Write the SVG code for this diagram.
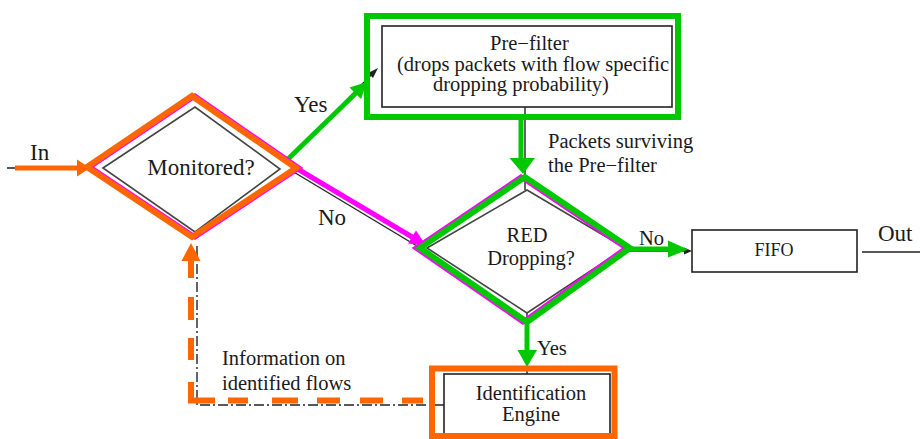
<svg xmlns="http://www.w3.org/2000/svg" width="920" height="439" viewBox="0 0 920 439">
<style>
text{font-family:"Liberation Serif","Times New Roman",Times,"DejaVu Serif",serif;fill:#1a1a1a}
.t20{font-size:20.5px}
.t23{font-size:23px}
.box{fill:#fff;stroke:#222;stroke-width:1.6}
.dia{fill:none;stroke:#444;stroke-width:1.6}
.thin{fill:none;stroke:#222;stroke-width:1.4}
.gr{fill:none;stroke:#00c800;stroke-width:6;stroke-linejoin:miter}
.or{fill:none;stroke:#ff6600;stroke-width:6;stroke-linejoin:miter}
.mg{fill:none;stroke:#ff00ff;stroke-width:5;stroke-linejoin:miter}
.grf{fill:#00c800}
.orf{fill:#ff6600}
.mgf{fill:#ff00ff}
.blk{fill:#222}
</style>
<defs>
<clipPath id="pfclip"><rect x="383" y="27" width="288" height="79"/></clipPath>
</defs>
<rect width="920" height="439" fill="#fff"/>

<g id="connectors">
  <path class="thin" d="M7 168 H88"/>
  <path class="thin" d="M290 158 L374 72"/>
  <polygon class="blk" points="378,68 368,73 373,78"/>
  <path class="thin" d="M292 171 L417 246"/>
  <path class="thin" d="M296 168 L420 242" stroke="#777"/>
  <path class="thin" d="M525 107 V190"/>
  <path class="thin" d="M527 313 V374"/>
  <path class="thin" d="M625 251 H686"/>
  <polygon class="blk" points="692,251 684,247.5 684,254.5"/>
  <path class="thin" d="M862 252 H920"/>
  <path class="thin" d="M444 405 H197 V244" stroke-dasharray="10 3 2 3"/>

  <path d="M15 168 H78" stroke="#ff6600" stroke-width="5"/>
  <polygon class="orf" points="77,159.5 77,176.5 90,168"/>

  <path d="M287 160 L356 93" stroke="#00c800" stroke-width="5"/>
  <polygon class="grf" points="367,82 361,99 349.5,87.5"/>

  <path d="M296 168 L413 237.5" stroke="#ff00ff" stroke-width="5"/>
  <polygon class="mgf" points="426,245.5 408,243.5 416,230.5"/>

  <path d="M521 117 V159" stroke="#00c800" stroke-width="5"/>
  <polygon class="grf" points="509.5,158 535,158 523,174"/>

  <path d="M628 249 H669" stroke="#00c800" stroke-width="5"/>
  <polygon class="grf" points="668,240.5 668,257.5 688,249.5"/>

  <path d="M527 320 V351" stroke="#00c800" stroke-width="5"/>
  <polygon class="grf" points="517.5,350 537,350 527,367"/>

  <path d="M191 260 V278 M191 297 V320 M191 338 V360 M191 382 V400.5 H215 M228 400.5 H248 M272 400.5 H298 M317 400.5 H340 M360 400.5 H383 M402 400.5 H423" stroke="#ff6600" stroke-width="6" fill="none"/>
  <polygon class="orf" points="191,243 181.5,261 200.5,261"/>

  <text class="t23" x="30" y="160">In</text>
  <text class="t23" x="294" y="112">Yes</text>
  <text class="t23" x="318" y="225">No</text>
  <text class="t20" x="548" y="148">Packets surviving</text>
  <text class="t20" x="548" y="172">the Pre−filter</text>
  <text class="t20" x="639" y="245">No</text>
  <text class="t23" x="878" y="241">Out</text>
  <text class="t20" x="537" y="355">Yes</text>
  <text class="t20" x="222" y="365">Information on</text>
  <text class="t20" x="222" y="390">identified flows</text>
</g>

<g id="monitored">
  <polygon class="dia" points="103,168 195,107 280,169 195,232"/>
  <polygon class="mg" points="90,167 195,96 299,168 195,237"/>
  <polygon class="or" points="87,167 192,96 296,168 192,237"/>
  <text class="t23" x="201" y="175" text-anchor="middle">Monitored?</text>
</g>

<g id="prefilter">
  <rect class="box" x="382" y="26" width="290" height="81"/>
  <rect class="gr" x="367" y="16" width="311" height="101"/>
  <text class="t20" x="490" y="50">Pre−filter</text>
  <text class="t20" x="397" y="71" clip-path="url(#pfclip)">(drops packets with flow specific</text>
  <text class="t20" x="433" y="91">dropping probability)</text>
</g>

<g id="red">
  <polygon class="dia" points="427,248 527,190 625,248 527,313"/>
  <polygon class="mg" points="416,248 521,177 626,248 523,322"/>
  <polygon class="gr" points="420,248 525,177 630,248 527,322"/>
  <text class="t20" x="527" y="242" text-anchor="middle">RED</text>
  <text class="t20" x="531" y="265" text-anchor="middle">Dropping?</text>
</g>

<g id="fifo">
  <rect class="box" x="692" y="230" width="165" height="42"/>
  <text x="774" y="256" font-size="18" text-anchor="middle">FIFO</text>
</g>

<g id="ident">
  <rect class="box" x="444" y="374" width="166" height="63"/>
  <rect class="or" x="432" y="368.5" width="182.5" height="67.5"/>
  <text class="t20" x="531" y="400" text-anchor="middle">Identification</text>
  <text class="t20" x="531" y="421" text-anchor="middle">Engine</text>
</g>
</svg>
